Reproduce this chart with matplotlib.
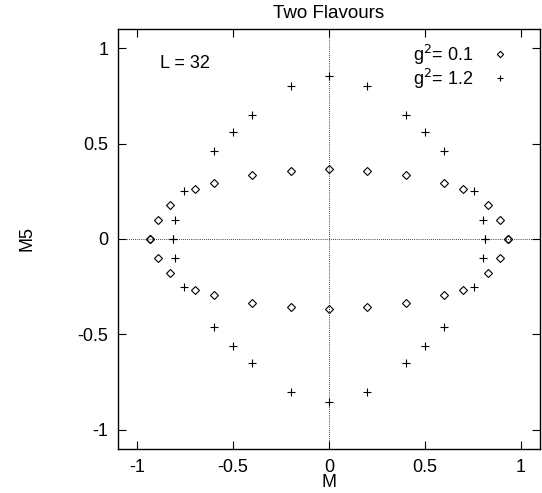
import matplotlib
matplotlib.use("Agg")
import matplotlib.pyplot as plt

plt.rcParams['font.family'] = ['Liberation Sans', 'DejaVu Sans']

# g^2 = 0.1 (diamonds)
m_a = [-0.935, -0.935, -0.89, -0.83, -0.70, -0.60, -0.40, -0.20, 0.0, 0.20, 0.40, 0.60, 0.70, 0.83, 0.89, 0.935, 0.935,
       -0.89, -0.83, -0.70, -0.60, -0.40, -0.20, 0.0, 0.20, 0.40, 0.60, 0.70, 0.83, 0.89]
m5_a = [0.0, 0.0, 0.10, 0.18, 0.26, 0.295, 0.335, 0.355, 0.365, 0.355, 0.335, 0.295, 0.26, 0.18, 0.10, 0.0, 0.0,
        -0.10, -0.18, -0.265, -0.295, -0.335, -0.355, -0.365, -0.355, -0.335, -0.295, -0.265, -0.18, -0.10]

# g^2 = 1.2 (crosses)
m_b = [-0.815, -0.815, -0.805, -0.757, -0.60, -0.50, -0.40, -0.20, 0.0, 0.20, 0.40, 0.50, 0.60, 0.757, 0.805, 0.815, 0.815,
       -0.805, -0.757, -0.60, -0.50, -0.40, -0.20, 0.0, 0.20, 0.40, 0.50, 0.60, 0.757, 0.805]
m5_b = [0.0, 0.0, 0.10, 0.25, 0.463, 0.563, 0.652, 0.80, 0.852, 0.80, 0.652, 0.563, 0.463, 0.25, 0.10, 0.0, 0.0,
        -0.10, -0.25, -0.463, -0.563, -0.652, -0.80, -0.852, -0.80, -0.652, -0.563, -0.463, -0.25, -0.10]

xticks = [-1, -0.5, 0, 0.5, 1]
yticks = [-1, -0.5, 0, 0.5, 1]

fig = plt.figure(figsize=(5.42, 4.93), dpi=100)
ax = fig.add_axes([118/542, 1-449/493, 422/542, 420/493])

ax.axhline(0, color='black', lw=0.6, ls=(0, (1, 1.5)), zorder=1)
ax.axvline(0, color='black', lw=0.6, ls=(0, (1, 1.5)), zorder=1)

ax.plot(m_a, m5_a, ls='none', marker='D', ms=4, mfc='none', mec='black', mew=0.8, label='g$^2$= 0.1', zorder=3)
ax.plot(m_b, m5_b, ls='none', marker='+', ms=5.5, mec='black', mew=0.8, label='g$^2$= 1.2', zorder=3)

ax.set_xlim(-1.1, 1.1)
ax.set_ylim(-1.1, 1.1)
ax.set_xticks(xticks)
ax.set_yticks(yticks)
ax.set_xticklabels(['-1', '-0.5', '0', '0.5', '1'])
ax.set_yticklabels(['-1', '-0.5', '0', '0.5', '1'])
ax.tick_params(direction='in', length=6, width=0.8, top=True, right=True, labelsize=13, pad=7)
for s in ax.spines.values():
    s.set_linewidth(1.0)

ax.set_title('Two Flavours', fontsize=13.5, pad=8)
ax.set_xlabel('M', fontsize=13, labelpad=-1)
ax.set_ylabel('M5', fontsize=13, labelpad=30)

ax.text(-0.88, 0.92, 'L = 32', fontsize=13, va='center')

ax.legend(loc='upper right', bbox_to_anchor=(0.948, 0.985), frameon=False, markerfirst=False, fontsize=13,
          handlelength=1.2, handletextpad=0.9, labelspacing=0.0, borderaxespad=0, markerscale=0.8)

fig.savefig('out.png', dpi=100)
